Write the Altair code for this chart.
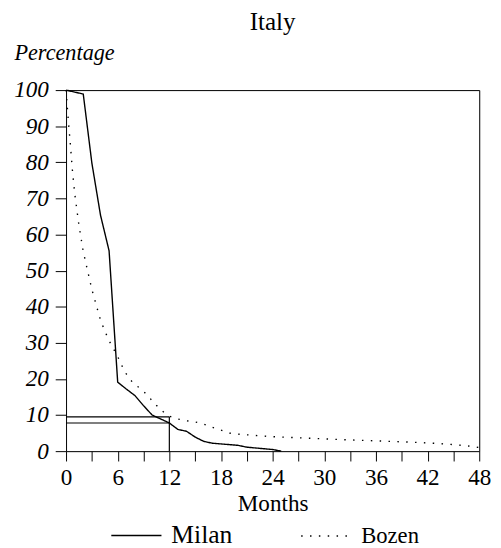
import altair as alt
import pandas as pd

# ---- data ----
milan_months = [0, 2, 3, 4, 5, 6, 7, 8, 9, 10, 11, 12, 13, 14, 15, 16, 17, 18, 20, 21, 24, 25]
milan_pct = [100, 98.9, 79.8, 65.4, 55.5, 19.1, 17.2, 15.4, 12.6, 10.0, 8.9, 7.8, 6.0, 5.5,
             3.9, 2.7, 2.2, 2.0, 1.6, 1.1, 0.45, 0.0]

bozen_months = [0, 0.25, 0.5, 0.75, 1, 1.5, 2, 2.5, 3, 3.5, 4, 4.5, 5, 5.5, 6, 6.5, 7, 7.5,
                8, 8.5, 9, 9.5, 10, 10.5, 11, 11.5, 12, 13, 14, 15, 16, 17, 18, 19, 20, 22,
                24, 26, 28, 30, 33, 36, 40, 43, 45, 46.5, 48]
bozen_pct = [100, 92, 85, 77.5, 71.5, 62.5, 55.3, 50, 44.8, 40.5, 36.3, 33.3, 30.6, 28.4,
             26.2, 23.6, 21.4, 19.7, 18.4, 17.6, 16.6, 15.3, 14.0, 12.7, 11.5, 10.5, 9.7,
             8.9, 8.4, 8.1, 7.5, 6.6, 5.8, 5.0, 4.7, 4.35, 4.0, 3.8, 3.6, 3.4, 3.1, 2.85,
             2.5, 2.15, 1.8, 1.5, 1.0]

series_names = ["Milan", "Bozen"]

# reference guide lines (x from, x to, y from, y to)
ref_x1 = [0, 0, 12]
ref_x2 = [12, 12, 12]
ref_y1 = [9.5, 7.8, 0]
ref_y2 = [9.5, 7.8, 9.5]

x_ticks = [0, 3, 6, 9, 12, 15, 18, 21, 24, 27, 30, 33, 36, 39, 42, 45, 48]
y_ticks = [0, 10, 20, 30, 40, 50, 60, 70, 80, 90, 100]

FONT = "Liberation Serif"

lines_df = pd.concat([
    pd.DataFrame({"month": milan_months, "pct": milan_pct, "city": "Milan", "order": range(len(milan_months))}),
    pd.DataFrame({"month": bozen_months, "pct": bozen_pct, "city": "Bozen", "order": range(len(bozen_months))}),
], ignore_index=True)

ref_df = pd.DataFrame({"x1": ref_x1, "x2": ref_x2, "y1": ref_y1, "y2": ref_y2})

x_scale = alt.Scale(domain=[0, 48], nice=False, zero=False)
y_scale = alt.Scale(domain=[0, 100], nice=False)

x_axis = alt.Axis(
    values=x_ticks,
    labelExpr="datum.value % 6 == 0 ? datum.label : ''",
    title="Months",
    titleFont=FONT, titleFontSize=23.5, titleFontWeight="normal",
    titleY=60, titleBaseline="alphabetic",
    labelFont=FONT, labelFontSize=23.5, labelPadding=5, labelOverlap=False,
    tickSize=10, grid=False, labelFlush=False,
    domainColor="black", tickColor="black", labelColor="black", titleColor="black",
)
y_axis = alt.Axis(
    values=y_ticks,
    title="Percentage",
    titleFont=FONT, titleFontSize=22.6, titleFontWeight="normal", titleFontStyle="italic",
    titleAngle=0, titleAlign="left", titleBaseline="alphabetic",
    titleX=-53, titleY=-31.5,
    labelFont=FONT, labelFontSize=23.5, labelFontStyle="italic", labelPadding=7,
    labelOverlap=False,
    tickSize=11, grid=False, labelFlush=False,
    domainColor="black", tickColor="black", labelColor="black", titleColor="black",
)

# frame axes (top and right edges of the plot box)
x_top = alt.Axis(orient="top", labels=False, ticks=False, title=None, grid=False,
                 domainColor="black", values=x_ticks)
y_right = alt.Axis(orient="right", labels=False, ticks=False, title=None, grid=False,
                   domainColor="black", values=y_ticks)

lines = alt.Chart(lines_df).mark_line(strokeWidth=1.4, color="black").encode(
    x=alt.X("month:Q", scale=x_scale, axis=x_axis),
    y=alt.Y("pct:Q", scale=y_scale, axis=y_axis),
    order="order:Q",
    strokeDash=alt.StrokeDash(
        "city:N",
        scale=alt.Scale(domain=series_names, range=[[1, 0], [1.5, 7.5]]),
        legend=alt.Legend(
            title=None, orient="none", legendX=45, legendY=426,
            direction="horizontal", symbolType="stroke",
            symbolSize=2600, symbolStrokeWidth=1.4, symbolStrokeColor="black",
            labelFont=FONT,
            labelFontSize={"expr": "datum.value == 'Milan' ? 26 : 23"},
            labelOffset=9, columnPadding=66,
            labelColor="black",
        ),
    ),
)

refs = alt.Chart(ref_df).mark_rule(color="black", strokeWidth=1.2).encode(
    x=alt.X("x1:Q", scale=x_scale, axis=x_top),
    x2="x2:Q",
    y=alt.Y("y1:Q", scale=y_scale, axis=y_right),
    y2="y2:Q",
)

chart = (
    alt.layer(lines, refs)
    .resolve_axis(x="independent", y="independent")
    .properties(
        width=420, height=367,
        title=alt.TitleParams(
            text="Italy", anchor="middle", font=FONT, fontSize=25.5,
            fontWeight="normal", color="black", baseline="alphabetic", offset=10, dy=24,
        ),
        autosize=alt.AutoSizeParams(type="none"),
        padding={"left": 59, "top": 79, "right": 14, "bottom": 94},
    )
    .configure_view(stroke=None)
    .configure(background="white")
)

chart.save("out.html", embed_options={"renderer": "svg", "actions": False})
